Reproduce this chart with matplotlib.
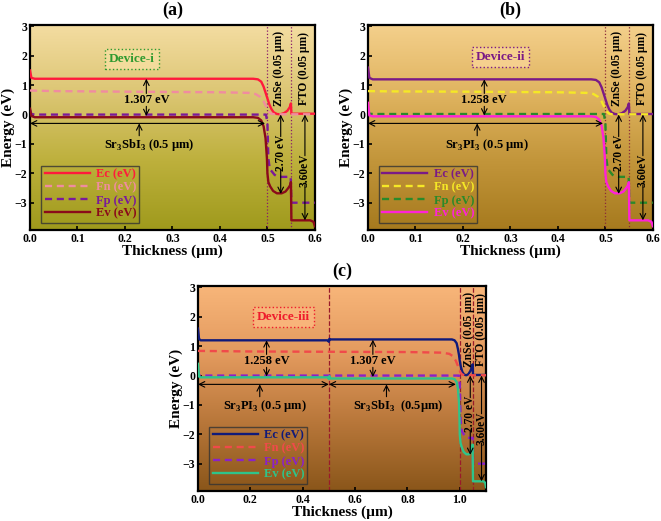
import numpy as np
import matplotlib.pyplot as plt
from matplotlib.colors import LinearSegmentedColormap

plt.rcParams['font.family'] = ['Liberation Serif', 'DejaVu Serif']
plt.rcParams['font.weight'] = 'bold'
plt.rcParams['mathtext.fontset'] = 'custom'
plt.rcParams['mathtext.rm'] = 'Liberation Serif:bold'

# ---- panel (a): Sr3SbI3 device ----
a_ec_x = [0, 0.003, 0.01, 0.47, 0.48, 0.487, 0.492, 0.496, 0.5, 0.504, 0.508, 0.513, 0.52, 0.527, 0.535, 0.542, 0.547, 0.5495, 0.5505, 0.555, 0.6]
a_ec_y = [1.5, 1.25, 1.22, 1.22, 1.2, 1.12, 0.95, 0.75, 0.55, 0.35, 0.2, 0.08, 0.02, 0.01, 0.05, 0.13, 0.25, 0.38, 0.03, 0.03, 0.03]
a_fn_x = [0, 0.05, 0.2, 0.4, 0.46, 0.475, 0.485, 0.492, 0.498, 0.503, 0.508, 0.515, 0.6]
a_fn_y = [0.82, 0.8, 0.78, 0.76, 0.74, 0.7, 0.6, 0.45, 0.25, 0.1, 0.03, 0.01, 0.01]
a_fp_x = [0, 0.003, 0.01, 0.497, 0.5, 0.502, 0.505, 0.51, 0.515, 0.52, 0.53, 0.545, 0.549, 0.5505, 0.6]
a_fp_y = [0.15, 0.02, 0.0, 0.0, -0.3, -1.5, -1.85, -1.95, -2.05, -2.1, -2.12, -2.12, -2.12, -3.0, -3.0]
a_ev_x = [0, 0.003, 0.01, 0.47, 0.48, 0.487, 0.492, 0.496, 0.499, 0.5, 0.502, 0.506, 0.512, 0.52, 0.53, 0.538, 0.544, 0.548, 0.5495, 0.5505, 0.59, 0.597, 0.6]
a_ev_y = [0.2, -0.05, -0.09, -0.09, -0.11, -0.2, -0.4, -0.8, -1.5, -2.0, -2.3, -2.45, -2.6, -2.68, -2.68, -2.62, -2.5, -2.4, -2.3, -3.6, -3.6, -3.65, -3.8]

# ---- panel (b): Sr3PI3 device ----
b_ec_x = [0, 0.003, 0.01, 0.47, 0.48, 0.487, 0.492, 0.496, 0.5, 0.504, 0.508, 0.513, 0.52, 0.527, 0.535, 0.542, 0.547, 0.5495, 0.5505, 0.555, 0.6]
b_ec_y = [1.6, 1.25, 1.2, 1.2, 1.18, 1.1, 0.93, 0.73, 0.53, 0.33, 0.18, 0.07, 0.02, 0.01, 0.05, 0.13, 0.25, 0.38, 0.02, 0.02, 0.02]
b_fn_x = [0, 0.05, 0.2, 0.4, 0.46, 0.475, 0.485, 0.492, 0.498, 0.503, 0.508, 0.515, 0.6]
b_fn_y = [0.8, 0.79, 0.78, 0.76, 0.74, 0.7, 0.6, 0.45, 0.25, 0.1, 0.03, 0.01, 0.01]
b_fp_x = [0, 0.003, 0.01, 0.497, 0.5, 0.502, 0.505, 0.51, 0.515, 0.52, 0.53, 0.545, 0.549, 0.5505, 0.6]
b_fp_y = [0.15, 0.03, 0.02, 0.02, -0.3, -1.5, -1.85, -1.95, -2.05, -2.1, -2.12, -2.12, -2.12, -3.0, -3.0]
b_ev_x = [0, 0.003, 0.01, 0.47, 0.48, 0.487, 0.492, 0.496, 0.499, 0.5, 0.502, 0.506, 0.512, 0.52, 0.53, 0.538, 0.544, 0.548, 0.5495, 0.5505, 0.59, 0.597, 0.6]
b_ev_y = [0.4, -0.03, -0.06, -0.06, -0.08, -0.17, -0.38, -0.8, -1.5, -2.0, -2.3, -2.45, -2.6, -2.68, -2.68, -2.62, -2.5, -2.4, -2.3, -3.6, -3.6, -3.65, -3.8]

# ---- panel (c): Sr3PI3 / Sr3SbI3 device ----
c_ec_x = [0, 0.004, 0.01, 0.495, 0.5, 0.502, 0.505, 0.97, 0.98, 0.988, 0.993, 0.997, 1.0, 1.004, 1.01, 1.017, 1.025, 1.033, 1.04, 1.046, 1.049, 1.0505, 1.06, 1.1]
c_ec_y = [1.6, 1.25, 1.2, 1.2, 1.15, 1.25, 1.23, 1.23, 1.2, 1.1, 0.9, 0.7, 0.5, 0.3, 0.12, 0.03, 0.01, 0.05, 0.15, 0.28, 0.38, 0.02, 0.02, 0.02]
c_fn_x = [0, 0.2, 0.5, 0.8, 0.93, 0.96, 0.975, 0.985, 0.995, 1.003, 1.01, 1.02, 1.1]
c_fn_y = [0.84, 0.82, 0.81, 0.8, 0.78, 0.74, 0.65, 0.5, 0.28, 0.1, 0.03, 0.01, 0.01]
c_fp_x = [0, 0.004, 0.01, 0.997, 1.0, 1.003, 1.008, 1.015, 1.025, 1.035, 1.045, 1.049, 1.0505, 1.1]
c_fp_y = [0.2, 0.02, 0.0, 0.0, -0.3, -1.5, -1.9, -2.0, -2.1, -2.12, -2.12, -2.12, -3.0, -3.0]
c_ev_x = [0, 0.004, 0.01, 0.495, 0.5, 0.502, 0.505, 0.97, 0.98, 0.988, 0.993, 0.997, 0.999, 1.0, 1.003, 1.008, 1.015, 1.025, 1.035, 1.042, 1.047, 1.049, 1.0505, 1.09, 1.097, 1.1]
c_ev_y = [0.4, -0.03, -0.06, -0.06, -0.12, -0.02, -0.1, -0.1, -0.12, -0.22, -0.45, -0.9, -1.5, -2.0, -2.3, -2.45, -2.6, -2.68, -2.68, -2.6, -2.45, -2.35, -3.6, -3.6, -3.65, -3.8]

legend_labels = ['Ec (eV)', 'Fn (eV)', 'Fp (eV)', 'Ev (eV)']

panels = [
    dict(title='(a)', rect=[0.0454, 0.5585, 0.431, 0.3935], xmax=0.6,
         xticks=[0.0, 0.1, 0.2, 0.3, 0.4, 0.5, 0.6],
         grad=['#f4dda2', '#dcc674', '#bdb03c', '#9f9a1c'],
         curves=[(a_ec_x, a_ec_y), (a_fn_x, a_fn_y), (a_fp_x, a_fp_y), (a_ev_x, a_ev_y)],
         colors=['#ff1a3c', '#f08ca0', '#7a1a9a', '#8a0a1a'],
         vcolor='#8a1a6a', vstyle=':', vlines=[0.5, 0.55],
         device='Device-i', dcolor='#2f9a2f', dpos=(0.215, 1.9), dfc='#f3dc9c',
         gaps=[(0.245, '1.307 eV', 1.22, -0.05)],
         layers=[(0.0, 0.495, 0.23, 0.25, 'Sr$_3$SbI$_3$ (0.5 µm)')],
         znse=0.525, fto=0.577, v270=0.528, v360=0.579, c270=-1.3, c360=-1.9),
    dict(title='(b)', rect=[0.5567, 0.5585, 0.431, 0.3935], xmax=0.6,
         xticks=[0.0, 0.1, 0.2, 0.3, 0.4, 0.5, 0.6],
         grad=['#f4d08c', '#e0b460', '#c2953a', '#a67a1e'],
         curves=[(b_ec_x, b_ec_y), (b_fn_x, b_fn_y), (b_fp_x, b_fp_y), (b_ev_x, b_ev_y)],
         colors=['#7a1a86', '#f5e826', '#2a8a2a', '#ff22d8'],
         vcolor='#8a2a3a', vstyle=':', vlines=[0.5, 0.55],
         device='Device-ii', dcolor='#7a1a86', dpos=(0.279, 1.97), dfc='#f5d08e',
         gaps=[(0.245, '1.258 eV', 1.2, -0.03)],
         layers=[(0.0, 0.495, 0.23, 0.25, 'Sr$_3$PI$_3$ (0.5 µm)')],
         znse=0.525, fto=0.577, v270=0.528, v360=0.579, c270=-1.3, c360=-1.9),
    dict(title='(c)', rect=[0.2995, 0.0576, 0.4357, 0.3935], xmax=1.1,
         xticks=[0.0, 0.2, 0.4, 0.6, 0.8, 1.0],
         grad=['#f8b67a', '#e39a5e', '#b8773a', '#8a561a'],
         curves=[(c_ec_x, c_ec_y), (c_fn_x, c_fn_y), (c_fp_x, c_fp_y), (c_ev_x, c_ev_y)],
         colors=['#101a7a', '#f04a4a', '#8a22c8', '#2ec48a'],
         vcolor='#9a1a2a', vstyle='--', vlines=[0.5, 1.0, 1.05],
         device='Device-iii', dcolor='#ee1c2c', dpos=(0.327, 1.98), dfc='#f8b47a',
         gaps=[(0.262, '1.258 eV', 1.2, -0.03), (0.668, '1.307 eV', 1.22, -0.05)],
         layers=[(0.0, 0.5, 0.236, 0.255, 'Sr$_3$PI$_3$ (0.5 µm)'),
                 (0.5, 0.985, 0.72, 0.763, 'Sr$_3$SbI$_3$  (0.5µm)')],
         znse=1.034, fto=1.08, v270=1.04, v360=1.083, c270=-1.3, c360=-1.8),
]

fig = plt.figure(figsize=(6.61, 5.21), dpi=100)

for p in panels:
    ax = fig.add_axes(p['rect'])
    cmap = LinearSegmentedColormap.from_list('bg', p['grad'][::-1])
    grad = np.linspace(0, 1, 256).reshape(-1, 1)
    ax.imshow(grad, extent=[0, 1, 0, 1], transform=ax.transAxes, aspect='auto',
              cmap=cmap, origin='lower', zorder=0)

    styles = ['-', '--', '--', '-']
    for (cx, cy), col, ls, lab in zip(p['curves'], p['colors'], styles, legend_labels):
        if ls == '--':
            ax.plot(cx, cy, color=col, lw=1.7, label=lab, zorder=3, dashes=(3, 2))
        else:
            ax.plot(cx, cy, color=col, lw=1.7, label=lab, zorder=3)

    for v in p['vlines']:
        ax.axvline(v, color=p['vcolor'], ls=p['vstyle'], lw=0.9, zorder=2)

    ax.set_xlim(0, p['xmax'])
    ax.set_ylim(-3.93, 3.05)
    ax.set_xticks(p['xticks'])
    ax.set_xticklabels(['{:.1f}'.format(t) for t in p['xticks']])
    ax.set_yticks([-3, -2, -1, 0, 1, 2, 3])
    ax.tick_params(direction='in', length=3, width=1.2, labelsize=8.5, pad=2)
    for s in ax.spines.values():
        s.set_linewidth(1.6)
    ax.set_xlabel('Thickness (µm)', fontsize=11, fontweight='bold', labelpad=0)
    ax.set_ylabel('Energy (eV)', fontsize=11, fontweight='bold', labelpad=0)
    ax.set_title(p['title'], fontsize=13, fontweight='bold', pad=7)

    ax.text(p['dpos'][0], p['dpos'][1], p['device'], color=p['dcolor'], fontsize=9.5,
            fontweight='bold', ha='center', va='center', zorder=4,
            bbox=dict(boxstyle='square,pad=0.3', fc=p['dfc'], ec=p['dcolor'], ls=':', lw=1))

    arr = dict(arrowstyle='->', color='black', lw=0.8, shrinkA=0, shrinkB=0)
    for gx, glab, top, bot in p['gaps']:
        ax.text(gx, 0.5, glab, fontsize=9, fontweight='bold', ha='center', va='center', zorder=4)
        ax.annotate('', xy=(gx, top), xytext=(gx, 0.72), arrowprops=arr, zorder=4)
        ax.annotate('', xy=(gx, bot), xytext=(gx, 0.28), arrowprops=arr, zorder=4)

    for x0, x1, ax_x, tx, lab in p['layers']:
        ax.annotate('', xy=(x1, -0.3), xytext=(x0, -0.3),
                    arrowprops=dict(arrowstyle='<->', color='black', lw=0.8, shrinkA=0, shrinkB=0), zorder=4)
        ax.annotate('', xy=(ax_x, -0.3), xytext=(ax_x, -0.72), arrowprops=arr, zorder=4)
        ax.text(tx, -1.02, lab, fontsize=9, fontweight='bold', ha='center', va='center', zorder=4)

    ax.text(p['znse'], 1.57, 'ZnSe (0.05 µm)', rotation=90, fontsize=8.3, fontweight='bold',
            ha='center', va='center', zorder=4)
    ax.text(p['fto'], 1.57, 'FTO (0.05 µm)', rotation=90, fontsize=8.3, fontweight='bold',
            ha='center', va='center', zorder=4)

    ax.text(p['v270'], p['c270'], '2.70 eV', rotation=90, fontsize=8.3, fontweight='bold',
            ha='center', va='center', zorder=4)
    ax.annotate('', xy=(p['v270'], 0.0), xytext=(p['v270'], p['c270'] + 0.55), arrowprops=arr, zorder=4)
    ax.annotate('', xy=(p['v270'], -2.7), xytext=(p['v270'], p['c270'] - 0.55), arrowprops=arr, zorder=4)
    ax.text(p['v360'], p['c360'], '3.60eV', rotation=90, fontsize=8.3, fontweight='bold',
            ha='center', va='center', zorder=4)
    ax.annotate('', xy=(p['v360'], 0.0), xytext=(p['v360'], p['c360'] + 0.5), arrowprops=arr, zorder=4)
    ax.annotate('', xy=(p['v360'], -3.6), xytext=(p['v360'], p['c360'] - 0.5), arrowprops=arr, zorder=4)

    leg = ax.legend(loc='lower left', bbox_to_anchor=(0.04, 0.035), fontsize=9, frameon=True,
                    fancybox=False, edgecolor='#333333', facecolor='none', handlelength=3.6,
                    borderaxespad=0, labelspacing=0.08, borderpad=0.25, handletextpad=0.5)
    leg.get_frame().set_linewidth(1.0)
    for t, col in zip(leg.get_texts(), p['colors']):
        t.set_color(col)
        t.set_fontweight('bold')

fig.savefig('out.png', dpi=100)
